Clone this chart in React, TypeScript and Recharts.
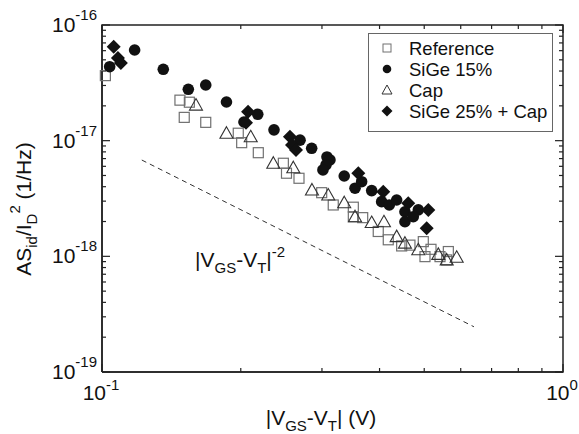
import { ScatterChart, Scatter, XAxis, YAxis } from "recharts"

const FONT = "'Liberation Sans', Arial, sans-serif"

// |VGS-VT| ticks (log axis, one decade)
const xTicks = [0.1, 0.2, 0.3, 0.4, 0.5, 0.6, 0.7, 0.8, 0.9, 1]
// ASid/ID^2 decades and minor mantissas
const yDecades = [1e-19, 1e-18, 1e-17]
const yMantissas = [1, 2, 3, 4, 5, 6, 7, 8, 9]
const yTicks = [...yDecades.flatMap((d) => yMantissas.map((m) => m * d)), 1e-16]
const xDomain = [0.1, 1]
const yDomain = [1e-19, 1e-16]

// [|VGS-VT| (V), ASid/ID^2 (1/Hz)]
const reference = [
  [0.1017, 3.65e-17], [0.1476, 2.24e-17], [0.1547, 2.15e-17], [0.1508, 1.59e-17],
  [0.1679, 1.44e-17], [0.1975, 1.16e-17], [0.2009, 9.61e-18], [0.2183, 7.87e-18],
  [0.2474, 6.38e-18], [0.2513, 5.23e-18], [0.2675, 4.73e-18], [0.2996, 3.55e-18],
  [0.3174, 2.78e-18], [0.3509, 2.66e-18], [0.3509, 2.2e-18], [0.3677, 2.16e-18],
  [0.3974, 1.64e-18], [0.4178, 1.39e-18], [0.4467, 1.23e-18], [0.4656, 1.25e-18],
  [0.4977, 1.34e-18], [0.5172, 1.15e-18], [0.5019, 9.94e-19], [0.564, 1.1e-18],
  [0.541, 9.94e-19], [0.5594, 9.31e-19],
]

const sige15 = [
  [0.1039, 4.36e-17], [0.1177, 6.08e-17], [0.1358, 4.14e-17], [0.1539, 2.78e-17],
  [0.1679, 3.03e-17], [0.1862, 2.16e-17], [0.2032, 1.45e-17], [0.2177, 1.69e-17],
  [0.2361, 1.24e-17], [0.2689, 1.01e-17], [0.285, 8.59e-18], [0.3076, 7.23e-18],
  [0.3122, 6.81e-18], [0.3061, 6.17e-18], [0.3015, 5.58e-18], [0.3353, 4.95e-18],
  [0.3539, 3.88e-18], [0.3658, 4.42e-18], [0.3846, 3.7e-18], [0.4042, 2.97e-18],
  [0.4199, 2.78e-18], [0.4357, 3.07e-18], [0.4541, 2.43e-18], [0.4854, 2.52e-18],
  [0.4541, 1.99e-18], [0.4734, 2.2e-18],
]

const cap = [
  [0.1599, 2.03e-17], [0.1862, 1.16e-17], [0.2102, 1.08e-17], [0.2353, 6.38e-18],
  [0.26, 5.84e-18], [0.2854, 3.75e-18], [0.3096, 3.39e-18], [0.3353, 2.91e-18],
  [0.3539, 2.2e-18], [0.3846, 1.96e-18], [0.4089, 1.99e-18], [0.4357, 1.48e-18],
  [0.4541, 1.3e-18], [0.4854, 1.14e-18], [0.5364, 1.04e-18], [0.5594, 9.31e-19],
  [0.588, 9.82e-19],
]

const sige25cap = [
  [0.106, 6.49e-17], [0.1083, 5.19e-17], [0.1099, 4.69e-17], [0.2074, 1.78e-17],
  [0.2053, 1.43e-17], [0.2557, 1.08e-17], [0.2583, 9.18e-18], [0.2635, 8.31e-18],
  [0.3597, 5.23e-18], [0.4075, 3.62e-18], [0.4617, 2.88e-18], [0.5103, 2.52e-18],
  [0.5062, 1.75e-18],
]

// |VGS-VT|^-2 guide
const guide = [
  [0.122, 6.8e-18],
  [0.641, 2.46e-19],
]

const toPoints = (rows: number[][]) => rows.map(([x, y]) => ({ x, y }))

const isDecade = (v: number) => {
  const l = Math.log10(v)
  return Math.abs(l - Math.round(l)) < 1e-6
}

const AXIS = "#222"

// frame corners and inward tick marks, placed through the chart scales
const frame = [
  { x: xDomain[0], y: yDomain[0] },
  { x: xDomain[1], y: yDomain[0] },
  { x: xDomain[1], y: yDomain[1] },
  { x: xDomain[0], y: yDomain[1] },
  { x: xDomain[0], y: yDomain[0] },
]
const bottomMarks = xTicks.map((x) => ({ x, y: yDomain[0], v: x }))
const topMarks = xTicks.map((x) => ({ x, y: yDomain[1], v: x }))
const leftMarks = yTicks.map((y) => ({ x: xDomain[0], y, v: y }))
const rightMarks = yTicks.map((y) => ({ x: xDomain[1], y, v: y }))

const markLen = (p: any) => (isDecade(p.payload?.v ?? 1) ? 8 : 4)
const UpMark = (p: any) => (
  <path d={`M${p.cx},${p.cy}V${p.cy - markLen(p)}`} stroke={AXIS} strokeWidth={1.2} fill="none" />
)
const DownMark = (p: any) => (
  <path d={`M${p.cx},${p.cy}V${p.cy + markLen(p)}`} stroke={AXIS} strokeWidth={1.2} fill="none" />
)
const RightMark = (p: any) => (
  <path d={`M${p.cx},${p.cy}H${p.cx + markLen(p)}`} stroke={AXIS} strokeWidth={1.2} fill="none" />
)
const LeftMark = (p: any) => (
  <path d={`M${p.cx},${p.cy}H${p.cx - markLen(p)}`} stroke={AXIS} strokeWidth={1.2} fill="none" />
)

function BottomTick({ x, y, payload }: any) {
  const v = payload.value
  if (!isDecade(v)) return <g />
  return (
    <text x={x - 1} y={y + 28} textAnchor="middle" fontSize={21} fontFamily={FONT} fill="#111">
      10
      <tspan dy={-10} fontSize={15}>
        {Math.round(Math.log10(v))}
      </tspan>
    </text>
  )
}

function LeftTick({ x, y, payload }: any) {
  const v = payload.value
  if (!isDecade(v)) return <g />
  return (
    <text x={x - 5} y={y + 7} textAnchor="end" fontSize={21} fontFamily={FONT} fill="#111">
      10
      <tspan dy={-12} fontSize={15}>
        {Math.round(Math.log10(v))}
      </tspan>
    </text>
  )
}

const SquareShape = ({ cx, cy }: any) => (
  <rect x={cx - 5} y={cy - 5} width={10} height={10} fill="none" stroke="#707070" strokeWidth={1.2} />
)
const CircleShape = ({ cx, cy }: any) => <circle cx={cx} cy={cy} r={5.8} fill="#111" />
const TriangleShape = ({ cx, cy }: any) => (
  <polygon
    points={`${cx},${cy - 6.5} ${cx + 6.5},${cy + 5} ${cx - 6.5},${cy + 5}`}
    fill="none"
    stroke="#333"
    strokeWidth={1.1}
  />
)
const DiamondShape = ({ cx, cy }: any) => (
  <polygon points={`${cx},${cy - 7} ${cx + 7},${cy} ${cx},${cy + 7} ${cx - 7},${cy}`} fill="#111" />
)
const NoShape = () => <g />

function LegendBox() {
  const mx = 387
  const tx = 409
  const rows = [48, 69, 90, 111]
  return (
    <g fontFamily={FONT} fontSize={18.5} fill="#111">
      <rect x={368.5} y={33.5} width={184} height={98} fill="#fff" stroke="#666" strokeWidth={1} />
      <rect x={mx - 4} y={rows[0] - 4} width={8} height={8} fill="none" stroke="#707070" strokeWidth={1} />
      <circle cx={mx} cy={rows[1]} r={4.3} fill="#111" />
      <polygon
        points={`${mx},${rows[2] - 5} ${mx + 5},${rows[2] + 4} ${mx - 5},${rows[2] + 4}`}
        fill="none"
        stroke="#333"
        strokeWidth={1}
      />
      <polygon
        points={`${mx},${rows[3] - 5.5} ${mx + 5.5},${rows[3]} ${mx},${rows[3] + 5.5} ${mx - 5.5},${rows[3]}`}
        fill="#111"
      />
      <text x={tx} y={rows[0] + 6.5}>Reference</text>
      <text x={tx} y={rows[1] + 6.5}>SiGe 15%</text>
      <text x={tx} y={rows[2] + 6.5}>Cap</text>
      <text x={tx} y={rows[3] + 6.5}>SiGe 25% + Cap</text>
    </g>
  )
}

// axis titles, slope annotation and legend, drawn inside the chart svg
function ChartTexts() {
  return (
    <g>
      <g fontFamily={FONT} fill="#111" fontSize={21}>
        <text x={321} y={425} textAnchor="middle">
          |V<tspan dy={6} fontSize={15}>GS</tspan>
          <tspan dy={-6}>-V</tspan>
          <tspan dy={6} fontSize={15}>T</tspan>
          <tspan dy={-6}>| (V)</tspan>
        </text>
        <text x={31} y={209} textAnchor="middle" transform="rotate(-90 31 209)">
          AS<tspan dy={6} fontSize={15}>id</tspan>
          <tspan dy={-6}>/I</tspan>
          <tspan dy={6} fontSize={15}>D</tspan>
          <tspan dy={-17} fontSize={15}>2</tspan>
          <tspan dy={11}> (1/Hz)</tspan>
        </text>
        <text x={195} y={267}>
          |V<tspan dy={6} fontSize={15}>GS</tspan>
          <tspan dy={-6}>-V</tspan>
          <tspan dy={6} fontSize={15}>T</tspan>
          <tspan dy={-6}>|</tspan>
          <tspan dy={-10} fontSize={15}>-2</tspan>
        </text>
      </g>
      <LegendBox />
    </g>
  )
}

export default function App() {
  return (
    <div style={{ position: "absolute", left: 0, top: 0, width: 579, height: 434, background: "#fff" }}>
      <ScatterChart width={579} height={434} margin={{ top: 25, right: 16, bottom: 32, left: 42 }}>
        <XAxis
          type="number"
          dataKey="x"
          scale="log"
          domain={xDomain}
          ticks={xTicks}
          height={30}
          tickSize={0}
          tickMargin={0}
          tickLine={false}
          axisLine={{ stroke: AXIS, strokeWidth: 1.5 }}
          tick={<BottomTick />}
          interval={0}
          label={<ChartTexts />}
        />
        <YAxis
          type="number"
          dataKey="y"
          scale="log"
          domain={yDomain}
          ticks={yTicks}
          width={60}
          tickSize={0}
          tickMargin={0}
          tickLine={false}
          axisLine={{ stroke: AXIS, strokeWidth: 1.5 }}
          tick={<LeftTick />}
          interval={0}
        />
        <Scatter
          data={frame}
          line={{ stroke: AXIS, strokeWidth: 1.5 }}
          shape={NoShape}
          isAnimationActive={false}
        />
        <Scatter data={bottomMarks} shape={UpMark} isAnimationActive={false} />
        <Scatter data={topMarks} shape={DownMark} isAnimationActive={false} />
        <Scatter data={leftMarks} shape={RightMark} isAnimationActive={false} />
        <Scatter data={rightMarks} shape={LeftMark} isAnimationActive={false} />
        <Scatter
          data={toPoints(guide)}
          line={{ stroke: "#333", strokeWidth: 1, strokeDasharray: "5 4" }}
          shape={NoShape}
          isAnimationActive={false}
        />
        <Scatter name="Reference" data={toPoints(reference)} shape={SquareShape} isAnimationActive={false} />
        <Scatter name="SiGe 15%" data={toPoints(sige15)} shape={CircleShape} isAnimationActive={false} />
        <Scatter name="Cap" data={toPoints(cap)} shape={TriangleShape} isAnimationActive={false} />
        <Scatter
          name="SiGe 25% + Cap"
          data={toPoints(sige25cap)}
          shape={DiamondShape}
          isAnimationActive={false}
        />
      </ScatterChart>
    </div>
  )
}
